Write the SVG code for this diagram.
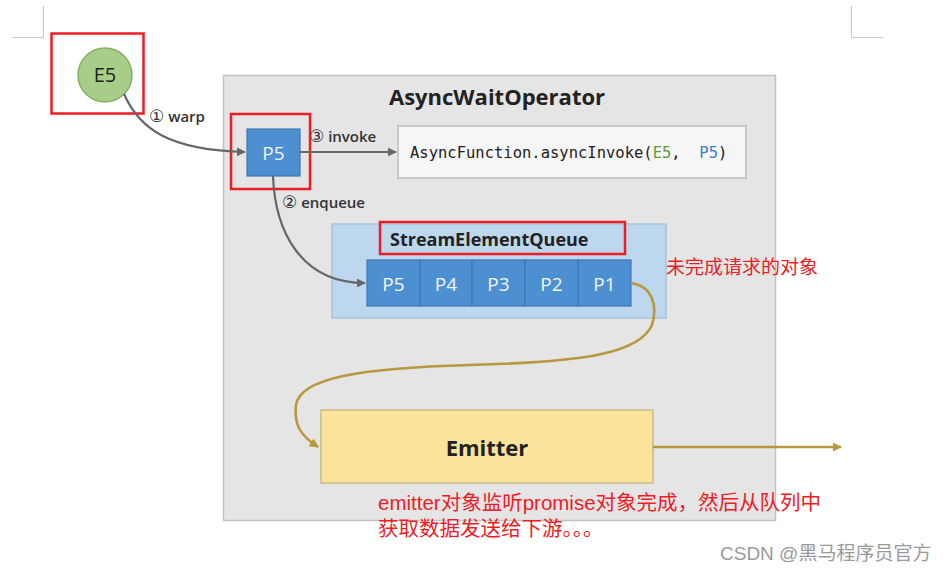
<svg xmlns="http://www.w3.org/2000/svg" width="947" height="572" viewBox="0 0 947 572">
<style>
.lbl{font-family:"Open Sans","Liberation Sans",sans-serif;fill:#222}
.red{fill:none;stroke:#ee1c25;stroke-width:2.5}
.cell{fill:#4d90d2;stroke:#3f78b0;stroke-width:1.2}
.cellt{font-family:"Open Sans","Liberation Sans",sans-serif;font-size:19px;fill:#f2f6fb;text-anchor:middle}
.note{font-family:"Liberation Sans","Noto Sans CJK SC",sans-serif;fill:#ee1c25}
.gray{fill:none;stroke:#666;stroke-width:2.2}
.gold{fill:none;stroke:#b7983c;stroke-width:2.6}
.step{font-family:"Open Sans","Liberation Sans",sans-serif;font-size:15px;font-weight:600;fill:#333}
.num{font-family:"DejaVu Sans",sans-serif;font-size:17px;font-weight:normal}
</style>
<defs>
<marker id="ag" viewBox="0 0 10 10" refX="9" refY="5" markerWidth="4" markerHeight="4" orient="auto" markerUnits="strokeWidth"><path d="M0,0 L10,5 L0,10 z" fill="#666"/></marker>
<marker id="ay" viewBox="0 0 10 10" refX="9" refY="5" markerWidth="3.6" markerHeight="3.6" orient="auto" markerUnits="strokeWidth"><path d="M0,0 L10,5 L0,10 z" fill="#b7983c"/></marker>
</defs>
<rect width="947" height="572" fill="#fff"/>
<g id="corners" stroke="#c8c8c8" stroke-width="1" fill="none">
<path d="M43.5,6 V37.5 H12"/>
<path d="M851.5,6 V37.5 H883"/>
</g>
<g id="operator">
<rect x="223.5" y="75.5" width="552" height="445" fill="#e5e5e5" stroke="#c2c2c2" stroke-width="1.5"/>
<text x="497" y="105" class="lbl" font-size="22" font-weight="bold" text-anchor="middle">AsyncWaitOperator</text>
</g>
<g id="e5">
<circle cx="105" cy="75" r="27" fill="#a8cd88" stroke="#86b064" stroke-width="1.5"/>
<text x="105" y="82" class="lbl" font-size="20" text-anchor="middle" fill="#1f2a18">E5</text>
<rect x="51.5" y="33.5" width="92" height="80" class="red"/>
</g>
<g id="p5">
<rect x="247" y="129" width="53" height="47" fill="#4d90d2" stroke="#3f78b0" stroke-width="1.2"/>
<text x="273.5" y="160" class="cellt">P5</text>
<rect x="231" y="114" width="79" height="75" class="red"/>
</g>
<g id="asyncfunction">
<rect x="398" y="126" width="348" height="52" fill="#f6f6f6" stroke="#bdbdbd" stroke-width="1.5"/>
<text x="410" y="158" font-family="DejaVu Sans Mono,Liberation Mono,monospace" font-size="15.5" fill="#222" xml:space="preserve">AsyncFunction.asyncInvoke(<tspan fill="#5c9a3c">E5</tspan>,  <tspan fill="#3d7fc4">P5</tspan>)</text>
</g>
<g id="queue">
<rect x="332" y="224" width="334" height="94" fill="#bdd7ee" stroke="#a6c2dc" stroke-width="1.5"/>
<text x="390" y="246" class="lbl" font-size="18" font-weight="bold">StreamElementQueue</text>
<rect x="380" y="222" width="245" height="32" class="red"/>
<rect x="367" y="260" width="53" height="46" class="cell"/>
<rect x="420" y="260" width="52" height="46" class="cell"/>
<rect x="472" y="260" width="53" height="46" class="cell"/>
<rect x="525" y="260" width="53" height="46" class="cell"/>
<rect x="578" y="260" width="53" height="46" class="cell"/>
<text x="393.5" y="291" class="cellt">P5</text>
<text x="446" y="291" class="cellt">P4</text>
<text x="498.5" y="291" class="cellt">P3</text>
<text x="551.5" y="291" class="cellt">P2</text>
<text x="604.5" y="291" class="cellt">P1</text>
</g>
<g id="emitter">
<rect x="321" y="410" width="332" height="73" fill="#fae39a" stroke="#cdbb84" stroke-width="1.5"/>
<text x="487" y="456" class="lbl" font-size="22" font-weight="bold" text-anchor="middle" fill="#1a1a1a">Emitter</text>
</g>
<g id="connectors">
<path d="M124,94 C140,130 170,150 245,152" class="gray" marker-end="url(#ag)"/>
<path d="M300,152 H396" class="gray" marker-end="url(#ag)"/>
<path d="M273,176 C275,230 300,283 365,283" class="gray" marker-end="url(#ag)"/>
<path d="M631,283 C652,286 658,305 652,325 C640,352 590,362 470,365 C360,368 300,378 296,405 C294,425 300,435 318,447" class="gold" marker-end="url(#ay)"/>
<path d="M653,447 H841" class="gold" marker-end="url(#ay)"/>
<text x="149" y="122" class="step"><tspan class="num">①</tspan> warp</text>
<text x="309" y="142" class="step"><tspan class="num">③</tspan> invoke</text>
<text x="282" y="208" class="step"><tspan class="num">②</tspan> enqueue</text>
</g>
<g id="notes">
<text x="666" y="274" class="note" font-size="19">未完成请求的对象</text>
<text x="378" y="510" class="note" font-size="20.5">emitter对象监听promise对象完成，然后从队列中</text>
<text x="378" y="536" class="note" font-size="20.5">获取数据发送给下游。。。</text>
<text x="720" y="560" font-family="Liberation Sans,Noto Sans CJK SC,sans-serif" font-size="19" fill="#9a9a9a">CSDN @黑马程序员官方</text>
</g>
</svg>
